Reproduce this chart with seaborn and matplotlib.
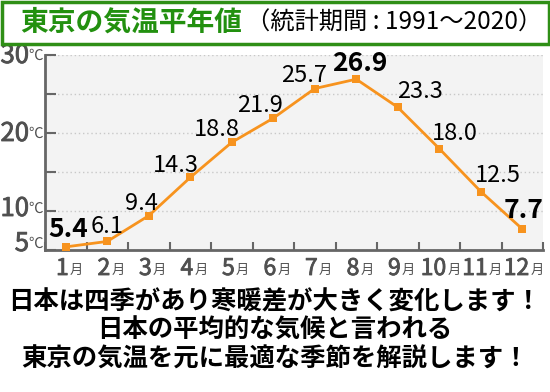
import matplotlib
matplotlib.use("Agg")
import matplotlib.pyplot as plt
import matplotlib.transforms as mtransforms
import matplotlib.patheffects as pe
from matplotlib.patches import Rectangle
import seaborn as sns

# 東京の月平均気温（1991〜2020）
months = [1, 2, 3, 4, 5, 6, 7, 8, 9, 10, 11, 12]
temps = [5.4, 6.1, 9.4, 14.3, 18.8, 21.9, 25.7, 26.9, 23.3, 18.0, 12.5, 7.7]
highlight = [1, 8, 12]
ytick_labels = {30: "30", 20: "20", 10: "10", 5: "5"}

title_main = "東京の気温平年値"
title_sub = "（統計期間 : 1991〜2020）"
caption = ["日本は四季があり寒暖差が大きく変化します！",
           "日本の平均的な気候と言われる",
           "東京の気温を元に最適な季節を解説します！"]

# 値ラベルのずらし量(px)
label_offsets = [(2, 10), (0, 8), (-7, 6), (-14, 5), (-15, 6), (-13, 6),
                 (-11, 7), (4, 8), (22, 9), (16, 9), (17, 10), (1, 11)]

sns.set_style("ticks")
jp = ["Noto Sans CJK JP", "DejaVu Sans"]
plt.rcParams["font.family"] = jp

orange = "#f7931e"
gray = "#505050"
green = "#22900f"
thick = [pe.withStroke(linewidth=0.6, foreground=gray)]

fig = plt.figure(figsize=(5.5, 3.92), dpi=100)
ax = fig.add_axes([45 / 550, 1 - 250 / 392, 498 / 550, 195 / 392])

sns.lineplot(x=months, y=temps, ax=ax, color=orange, linewidth=2,
             marker="s", markersize=6, markeredgewidth=0, zorder=3)

ax.set_xlim(0.5, 12.5)
ax.set_ylim(5, 30)
ax.set_facecolor("#f3f3f3")
for s in ["top", "right"]:
    ax.spines[s].set_visible(False)
for s in ["left", "bottom"]:
    ax.spines[s].set_color("#666666")
    ax.spines[s].set_linewidth(2)

ax.set_yticks([5, 10, 15, 20, 25, 30])
ax.set_yticklabels([])
ax.tick_params(axis="y", direction="in", length=8, width=1.5, color="#666666")
ax.yaxis.grid(True, linestyle=(0, (1, 2)), color="#c8c8c8", linewidth=1)

ax.set_xticks(months)
ax.set_xticklabels([])
ax.set_xticks([m + 0.5 for m in range(0, 13)], minor=True)
ax.tick_params(axis="x", which="major", length=0)
ax.tick_params(axis="x", which="minor", direction="in", length=6, width=1.5,
               color="#666666")
ax.set_xlabel("")
ax.set_ylabel("")

# y軸ラベル
ytrans = mtransforms.blended_transform_factory(ax.transAxes, ax.transData)
for v, t in ytick_labels.items():
    dy = 6 if v == 5 else (2 if v == 10 else -1)
    ax.annotate(t, xy=(0, v), xycoords=ytrans, xytext=(-16, dy),
                textcoords="offset pixels", ha="right", va="center",
                fontsize=18.5, color=gray, path_effects=thick,
                annotation_clip=False)
    ax.annotate("℃", xy=(0, v), xycoords=ytrans, xytext=(-2, dy),
                textcoords="offset pixels", ha="right", va="center",
                fontsize=10.5, color=gray, annotation_clip=False)

# x軸ラベル
xtrans = mtransforms.blended_transform_factory(ax.transData, ax.transAxes)
for m in months:
    dx = 3 if m < 10 else 7
    ax.annotate(str(m), xy=(m, 0), xycoords=xtrans, xytext=(dx, -25),
                textcoords="offset pixels", ha="right", va="baseline",
                fontsize=16.5, color=gray, path_effects=thick,
                annotation_clip=False)
    ax.annotate("月", xy=(m, 0), xycoords=xtrans, xytext=(dx + 1, -24),
                textcoords="offset pixels", ha="left", va="baseline",
                fontsize=9.5, color=gray, annotation_clip=False)

# 値ラベル
for m, v, (dx, dy) in zip(months, temps, label_offsets):
    big = m in highlight
    ax.annotate(f"{v:.1f}", xy=(m, v), xytext=(dx, dy),
                textcoords="offset pixels", ha="center", va="baseline",
                fontsize=19 if big else 17, fontweight="bold" if big else "normal",
                color="black", zorder=4)

# タイトル枠
fig.patches.append(Rectangle((1.5 / 550, 1 - 44 / 392), 547 / 550, 42.5 / 392,
                             transform=fig.transFigure, fill=False,
                             edgecolor="#2f8f16", linewidth=2.5))
fig.text(20 / 550, 1 - 23 / 392, title_main, ha="left", va="center",
         fontsize=20, fontweight="bold", color=green)
fig.text(246 / 550, 1 - 23 / 392, title_sub, ha="left", va="center",
         fontsize=17.5, color="black")

for i, line in enumerate(caption):
    fig.text(0.5, 1 - (302 + 28.5 * i) / 392, line, ha="center", va="center",
             fontsize=18.3, fontweight="bold", color="black")

fig.savefig("out.png", dpi=100)
